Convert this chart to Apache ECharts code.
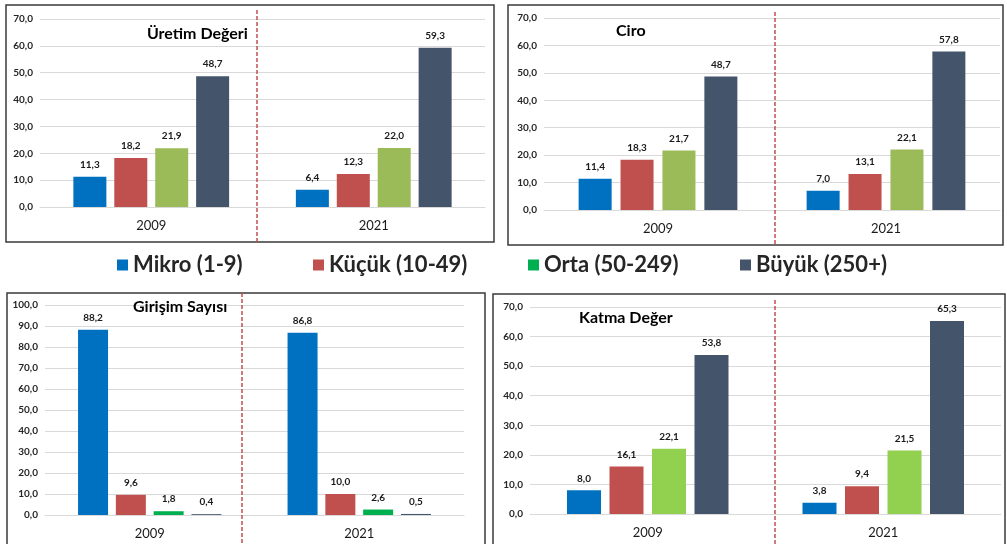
<!DOCTYPE html>
<html>
<head>
<meta charset="utf-8">
<script src="https://cdn.jsdelivr.net/npm/echarts@6/dist/echarts.min.js"></script>
<style>
  html, body { margin: 0; padding: 0; background: #fff; }
  #chart { width: 1007px; height: 544px; }
</style>
</head>
<body>
<div id="chart"></div>
<script>
// yıllar ve işletme büyüklükleri
const years = ['2009', '2021'];
const sizeNames = ['Mikro (1-9)', 'Küçük (10-49)', 'Orta (50-249)', 'Büyük (250+)'];

// değerler (%), sıra: Mikro, Küçük, Orta, Büyük
const uretim2009 = [11.3, 18.2, 21.9, 48.7];
const uretim2021 = [6.4, 12.3, 22.0, 59.3];
const ciro2009 = [11.4, 18.3, 21.7, 48.7];
const ciro2021 = [7.0, 13.1, 22.1, 57.8];
const girisim2009 = [88.2, 9.6, 1.8, 0.4];
const girisim2021 = [86.8, 10.0, 2.6, 0.5];
const katma2009 = [8.0, 16.1, 22.1, 53.8];
const katma2021 = [3.8, 9.4, 21.5, 65.3];

const ticks70 = [0, 10, 20, 30, 40, 50, 60, 70];
const ticks100 = [0, 10, 20, 30, 40, 50, 60, 70, 80, 90, 100];

const FONT = 'Lato, "Open Sans", sans-serif';
const fmt = (v) => Number(v).toFixed(1).replace('.', ',');

/**
 * panel yerleşimleri (sadece konum/stil)
 */
const panels = [
  { title: 'Üretim Değeri', d1: uretim2009, d2: uretim2021, ticks: ticks70,
    green: '#9BBB59', grid: { left: 40, top: 19, width: 445, height: 188 },
    barWidth: 33, barGap: '24%', box: [6, 5, 488, 237], divX: 257, divY: [10, 242],
    tLeft: 147, tTop: 26 },
  { title: 'Ciro', d1: ciro2009, d2: ciro2021, ticks: ticks70,
    green: '#9BBB59', grid: { left: 544, top: 18, width: 456, height: 192 },
    barWidth: 33, barGap: '27%', box: [508, 5, 495, 240], divX: 775, divY: [12, 245],
    tLeft: 616, tTop: 23 },
  { title: 'Girişim Sayısı', d1: girisim2009, d2: girisim2021, ticks: ticks100,
    green: '#00B050', grid: { left: 45, top: 305, width: 419, height: 210 },
    barWidth: 30, barGap: '26%', box: [7, 293, 478, 260], divX: 242, divY: [293, 544],
    tLeft: 133, tTop: 299 },
  { title: 'Katma Değer', d1: katma2009, d2: katma2021, ticks: ticks70,
    green: '#92D050', grid: { left: 530, top: 307, width: 471, height: 207 },
    barWidth: 34, barGap: '25%', box: [493, 294, 512, 260], divX: 775, divY: [300, 544],
    tLeft: 579, tTop: 310 }
];

const baseColors = ['#0070C0', '#C0504D', null, '#44546A'];

const grids = [];
const xAxes = [];
const yAxes = [];
const series = [];
const titles = [];
const graphics = [];

panels.forEach((p, gi) => {
  grids.push(p.grid);
  xAxes.push({
    type: 'category',
    gridIndex: gi,
    data: years,
    axisLine: { show: true, lineStyle: { color: '#d9d9d9', width: 1 } },
    axisTick: { show: false },
    axisLabel: { fontSize: 13, color: '#1a1a1a', fontFamily: FONT, margin: 12 }
  });
  const max = p.ticks[p.ticks.length - 1];
  yAxes.push({
    type: 'value',
    gridIndex: gi,
    min: p.ticks[0],
    max: max,
    interval: p.ticks[1] - p.ticks[0],
    axisLine: { show: false },
    axisTick: { show: false },
    splitLine: { lineStyle: { color: '#d9d9d9', width: 1 } },
    axisLabel: {
      fontSize: 10, fontWeight: 'bold', color: '#262626', fontFamily: FONT,
      margin: 7, formatter: fmt
    }
  });
  sizeNames.forEach((name, si) => {
    series.push({
      name: name,
      type: 'bar',
      xAxisIndex: gi,
      yAxisIndex: gi,
      data: [p.d1[si], p.d2[si]],
      barWidth: p.barWidth,
      barGap: p.barGap,
      itemStyle: { color: baseColors[si] || p.green },
      label: {
        show: true,
        position: 'top',
        distance: 7,
        formatter: (prm) => fmt(prm.value),
        fontSize: 10,
        fontWeight: 'bold',
        color: '#1a1a1a',
        fontFamily: FONT
      }
    });
  });
  titles.push({
    text: p.title,
    left: p.tLeft,
    top: p.tTop,
    padding: 0,
    textStyle: { fontSize: 16, fontWeight: 'bold', color: '#000', fontFamily: FONT }
  });
  graphics.push({
    type: 'rect',
    shape: { x: p.box[0], y: p.box[1], width: p.box[2], height: p.box[3] },
    style: { fill: 'none', stroke: '#3a3a3a', lineWidth: 1.5 },
    z: 100
  });
  graphics.push({
    type: 'line',
    shape: { x1: p.divX, y1: p.divY[0], x2: p.divX, y2: p.divY[1] },
    style: { stroke: '#C0504D', lineWidth: 1.5, lineDash: [4, 2] },
    z: 100
  });
});

// ortak lejant, her öğe ayrı konumda
const legendColors = ['#0070C0', '#C0504D', '#00B050', '#44546A'];
const legendLefts = [117, 313, 528, 740];
const legends = sizeNames.map((name, i) => ({
  data: [{ name: name, itemStyle: { color: legendColors[i] } }],
  left: legendLefts[i],
  top: 254,
  padding: 0,
  icon: 'rect',
  itemWidth: 11,
  itemHeight: 11,
  itemGap: 0,
  selectedMode: false,
  textStyle: { fontSize: 22, fontWeight: 'bold', color: '#262626', fontFamily: FONT }
}));

const chart = echarts.init(document.getElementById('chart'), null, { renderer: 'canvas' });
chart.setOption({
  animation: false,
  backgroundColor: '#fff',
  title: titles,
  legend: legends,
  grid: grids,
  xAxis: xAxes,
  yAxis: yAxes,
  series: series,
  graphic: graphics
});
</script>
</body>
</html>
